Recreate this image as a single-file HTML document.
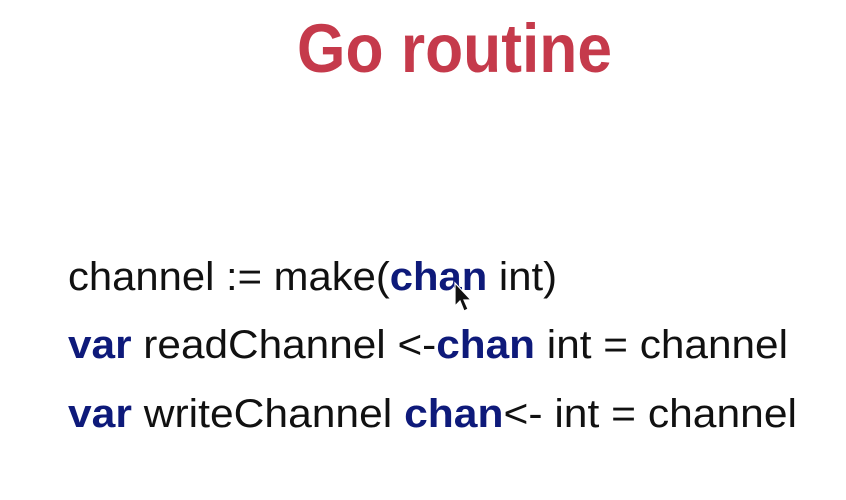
<!DOCTYPE html>
<html><head><meta charset="utf-8"><style>
html,body{margin:0;padding:0;background:#fff;width:846px;height:500px;overflow:hidden}
</style></head><body>
<svg width="846" height="500" xmlns="http://www.w3.org/2000/svg" style="display:block">
<rect width="846" height="500" fill="#fff"/>
<text x="297" y="72" textLength="315" lengthAdjust="spacingAndGlyphs" font-family="Liberation Sans, sans-serif" font-weight="bold" font-size="69" fill="#c53a4b">Go routine</text>
<g font-family="Liberation Sans, sans-serif" font-size="40" fill="#111">
<text x="68" y="290" textLength="489" lengthAdjust="spacingAndGlyphs">channel := make(<tspan fill="#0e1a7a" font-weight="bold">chan</tspan> int)</text>
<text x="68" y="358" textLength="720" lengthAdjust="spacingAndGlyphs"><tspan fill="#0e1a7a" font-weight="bold">var</tspan> readChannel &lt;-<tspan fill="#0e1a7a" font-weight="bold">chan</tspan> int = channel</text>
<text x="68" y="427" textLength="729" lengthAdjust="spacingAndGlyphs"><tspan fill="#0e1a7a" font-weight="bold">var</tspan> writeChannel <tspan fill="#0e1a7a" font-weight="bold">chan</tspan>&lt;- int = channel</text>
</g>
<path d="M455 283 L455 306 L460 301 L464 311 L468 309 L464 300 L471 300 Z" fill="#111" stroke="#fff" stroke-width="1.2"/>
</svg>
</body></html>
